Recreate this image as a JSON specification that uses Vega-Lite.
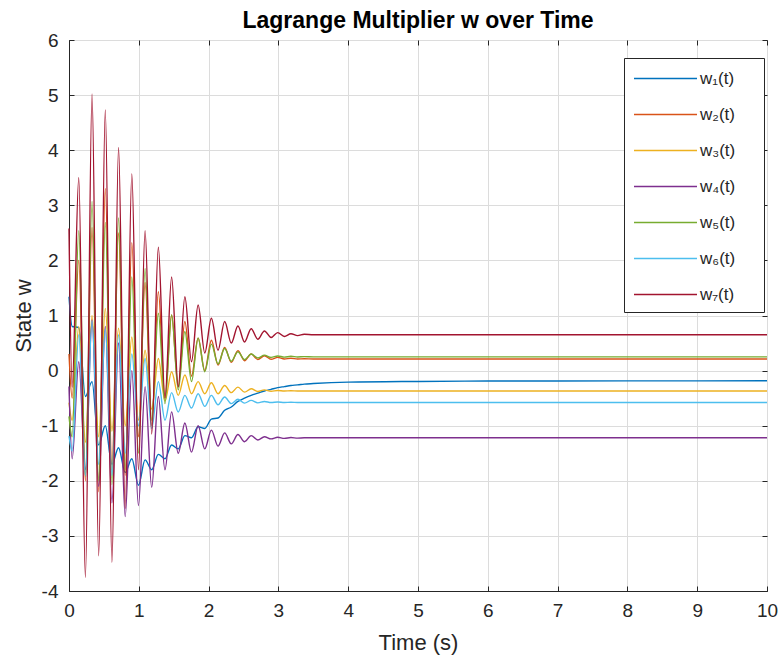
{
  "$schema": "https://vega.github.io/schema/vega-lite/v6.json",
  "autosize": {"type": "none"},
  "width": 698,
  "height": 551,
  "padding": {"left": 69, "top": 40, "right": 16, "bottom": 75},
  "background": "white",
  "title": {"text": "Lagrange Multiplier w over Time", "font": "Liberation Sans", "fontSize": 23, "fontWeight": "bold", "color": "#000000", "offset": -2, "anchor": "middle"},
  "data": {"values": [
    {"t": 0, "w1": 1.34, "w2": 0.3, "w3": -0.58, "w4": -0.29, "w5": -0.83, "w6": -1.19, "w7": 2.58},
    {"t": 0.045, "w1": 0.8, "w2": -0.5, "w3": -0.9, "w4": -1.6, "w5": -1.2, "w6": -1.46, "w7": -0.3},
    {"t": 0.14, "w1": 0.78, "w2": 2.0, "w3": 0.8, "w4": 0.16, "w5": 2.54, "w6": 0.65, "w7": 3.5},
    {"t": 0.235, "w1": -0.47, "w2": -2.0, "w3": -1.3, "w4": -1.8, "w5": -1.92, "w6": -1.9, "w7": -3.75},
    {"t": 0.33, "w1": -0.2, "w2": 2.6, "w3": 1.0, "w4": 0.92, "w5": 3.07, "w6": 0.9, "w7": 5.02},
    {"t": 0.425, "w1": -1.35, "w2": -2.2, "w3": -1.2, "w4": -2.1, "w5": -2.0, "w6": -1.7, "w7": -3.36},
    {"t": 0.52, "w1": -1.0, "w2": 3.3, "w3": 1.13, "w4": 0.8, "w5": 2.69, "w6": 0.75, "w7": 4.73},
    {"t": 0.615, "w1": -1.7, "w2": -1.8, "w3": -1.1, "w4": -2.4, "w5": -2.07, "w6": -1.9, "w7": -3.48},
    {"t": 0.71, "w1": -1.4, "w2": 2.5, "w3": 0.77, "w4": 0.5, "w5": 2.77, "w6": 0.65, "w7": 4.05},
    {"t": 0.805, "w1": -1.85, "w2": -1.9, "w3": -1.0, "w4": -2.65, "w5": -1.8, "w6": -1.5, "w7": -2.5},
    {"t": 0.9, "w1": -1.6, "w2": 2.32, "w3": 0.61, "w4": 0.0, "w5": 1.7, "w6": 0.3, "w7": 3.57},
    {"t": 0.995, "w1": -2.08, "w2": -1.2, "w3": -0.9, "w4": -2.45, "w5": -1.5, "w6": -1.0, "w7": -1.8},
    {"t": 1.09, "w1": -1.62, "w2": 1.6, "w3": 0.37, "w4": -0.29, "w5": 1.85, "w6": 0.22, "w7": 2.54},
    {"t": 1.185, "w1": -1.8, "w2": -1.0, "w3": -0.7, "w4": -2.12, "w5": -0.9, "w6": -1.05, "w7": -1.15},
    {"t": 1.28, "w1": -1.52, "w2": 1.43, "w3": 0.22, "w4": -0.47, "w5": 1.04, "w6": -0.2, "w7": 2.24},
    {"t": 1.375, "w1": -1.6, "w2": -0.5, "w3": -0.55, "w4": -1.8, "w5": -0.6, "w6": -0.9, "w7": -0.5},
    {"t": 1.47, "w1": -1.35, "w2": 1.01, "w3": -0.02, "w4": -0.75, "w5": 1.01, "w6": -0.4, "w7": 1.7},
    {"t": 1.565, "w1": -1.42, "w2": -0.3, "w3": -0.45, "w4": -1.5, "w5": -0.35, "w6": -0.75, "w7": -0.29},
    {"t": 1.66, "w1": -1.18, "w2": 0.89, "w3": -0.08, "w4": -0.95, "w5": 0.71, "w6": -0.45, "w7": 1.34},
    {"t": 1.755, "w1": -1.22, "w2": -0.1, "w3": -0.42, "w4": -1.48, "w5": -0.2, "w6": -0.68, "w7": 0.16},
    {"t": 1.85, "w1": -1.02, "w2": 0.59, "w3": -0.2, "w4": -1.0, "w5": 0.59, "w6": -0.42, "w7": 1.19},
    {"t": 1.945, "w1": -1.05, "w2": 0.0, "w3": -0.42, "w4": -1.42, "w5": -0.02, "w6": -0.65, "w7": 0.32},
    {"t": 2.04, "w1": -0.88, "w2": 0.55, "w3": -0.22, "w4": -1.08, "w5": 0.48, "w6": -0.45, "w7": 0.95},
    {"t": 2.135, "w1": -0.86, "w2": 0.1, "w3": -0.42, "w4": -1.37, "w5": 0.12, "w6": -0.62, "w7": 0.37},
    {"t": 2.23, "w1": -0.72, "w2": 0.42, "w3": -0.27, "w4": -1.13, "w5": 0.4, "w6": -0.48, "w7": 0.89},
    {"t": 2.325, "w1": -0.66, "w2": 0.15, "w3": -0.4, "w4": -1.33, "w5": 0.17, "w6": -0.6, "w7": 0.5},
    {"t": 2.42, "w1": -0.56, "w2": 0.36, "w3": -0.3, "w4": -1.16, "w5": 0.34, "w6": -0.52, "w7": 0.81},
    {"t": 2.515, "w1": -0.5, "w2": 0.18, "w3": -0.39, "w4": -1.29, "w5": 0.2, "w6": -0.59, "w7": 0.52},
    {"t": 2.61, "w1": -0.45, "w2": 0.3, "w3": -0.33, "w4": -1.18, "w5": 0.3, "w6": -0.54, "w7": 0.76},
    {"t": 2.705, "w1": -0.41, "w2": 0.2, "w3": -0.38, "w4": -1.26, "w5": 0.23, "w6": -0.585, "w7": 0.57},
    {"t": 2.8, "w1": -0.37, "w2": 0.27, "w3": -0.35, "w4": -1.2, "w5": 0.28, "w6": -0.56, "w7": 0.72},
    {"t": 2.895, "w1": -0.34, "w2": 0.205, "w3": -0.375, "w4": -1.24, "w5": 0.24, "w6": -0.58, "w7": 0.6},
    {"t": 2.99, "w1": -0.31, "w2": 0.24, "w3": -0.36, "w4": -1.21, "w5": 0.265, "w6": -0.57, "w7": 0.69},
    {"t": 3.085, "w1": -0.29, "w2": 0.21, "w3": -0.37, "w4": -1.23, "w5": 0.245, "w6": -0.58, "w7": 0.62},
    {"t": 3.18, "w1": -0.27, "w2": 0.225, "w3": -0.365, "w4": -1.215, "w5": 0.26, "w6": -0.575, "w7": 0.67},
    {"t": 3.275, "w1": -0.26, "w2": 0.21, "w3": -0.37, "w4": -1.225, "w5": 0.248, "w6": -0.58, "w7": 0.635},
    {"t": 3.37, "w1": -0.245, "w2": 0.215, "w3": -0.37, "w4": -1.22, "w5": 0.253, "w6": -0.58, "w7": 0.66},
    {"t": 3.5, "w1": -0.235, "w2": 0.21, "w3": -0.37, "w4": -1.22, "w5": 0.25, "w6": -0.58, "w7": 0.65},
    {"t": 4, "w1": -0.21, "w2": 0.21, "w3": -0.37, "w4": -1.22, "w5": 0.25, "w6": -0.58, "w7": 0.65},
    {"t": 5, "w1": -0.197, "w2": 0.21, "w3": -0.37, "w4": -1.22, "w5": 0.25, "w6": -0.58, "w7": 0.65},
    {"t": 6, "w1": -0.19, "w2": 0.21, "w3": -0.37, "w4": -1.22, "w5": 0.25, "w6": -0.58, "w7": 0.65},
    {"t": 8, "w1": -0.187, "w2": 0.21, "w3": -0.37, "w4": -1.22, "w5": 0.25, "w6": -0.58, "w7": 0.65},
    {"t": 10, "w1": -0.185, "w2": 0.21, "w3": -0.37, "w4": -1.22, "w5": 0.25, "w6": -0.58, "w7": 0.65}
  ]},
  "transform": [{"fold": ["w1", "w2", "w3", "w4", "w5", "w6", "w7"], "as": ["series", "value"]}],
  "layer": [
    {
      "mark": {"type": "line", "interpolate": "monotone", "strokeWidth": 1.4},
      "encoding": {
        "x": {"field": "t", "type": "quantitative", "scale": {"domain": [0, 10], "nice": false},
          "axis": {"title": "Time (s)", "values": [0, 1, 2, 3, 4, 5, 6, 7, 8, 9, 10], "labelPadding": 15, "titlePadding": 12, "labelFlush": false}},
        "y": {"field": "value", "type": "quantitative", "scale": {"domain": [-4, 6], "nice": false},
          "axis": {"title": "State w", "values": [-4, -3, -2, -1, 0, 1, 2, 3, 4, 5, 6], "labelPadding": 16, "titlePadding": 6, "labelFlush": false,
            "labelExpr": "replace(datum.label, '−', '-')"}},
        "color": {"field": "series", "type": "nominal",
          "scale": {"domain": ["w1", "w2", "w3", "w4", "w5", "w6", "w7"], "range": ["#0072BD", "#D95319", "#EDB120", "#7E2F8E", "#77AC30", "#4DBEEE", "#A2142F"]},
          "legend": {"orient": "none", "legendX": 555, "legendY": 18, "title": null,
            "labelExpr": "datum.label == 'w1' ? 'w₁(t)' : datum.label == 'w2' ? 'w₂(t)' : datum.label == 'w3' ? 'w₃(t)' : datum.label == 'w4' ? 'w₄(t)' : datum.label == 'w5' ? 'w₅(t)' : datum.label == 'w6' ? 'w₆(t)' : 'w₇(t)'",
            "strokeColor": "#262626", "fillColor": "white", "padding": 9,
            "symbolType": "M-1,0H5M10.2,0", "symbolSize": 441, "symbolStrokeWidth": 1.4,
            "labelFont": "Liberation Sans", "labelFontSize": 17, "labelColor": "#262626", "labelOffset": 44, "rowPadding": 16}}
      }
    },
    {
      "mark": {"type": "point", "opacity": 0, "size": 1},
      "encoding": {
        "x": {"field": "t", "type": "quantitative", "scale": {"domain": [0, 10], "nice": false},
          "axis": {"orient": "top", "title": null, "labels": false, "grid": false, "domain": false, "values": [0, 1, 2, 3, 4, 5, 6, 7, 8, 9, 10]}},
        "y": {"field": "value", "type": "quantitative", "scale": {"domain": [-4, 6], "nice": false},
          "axis": {"orient": "right", "title": null, "labels": false, "grid": false, "domain": false, "values": [-4, -3, -2, -1, 0, 1, 2, 3, 4, 5, 6]}}
      }
    }
  ],
  "resolve": {"scale": {"x": "independent", "y": "independent"}, "axis": {"x": "independent", "y": "independent"}},
  "config": {
    "view": {"stroke": "#262626", "strokeWidth": 1},
    "axis": {"domainColor": "#262626", "tickColor": "#262626", "tickSize": -5,
      "labelColor": "#262626", "labelFont": "Liberation Sans", "labelFontSize": 19,
      "titleColor": "#262626", "titleFont": "Liberation Sans", "titleFontSize": 22, "titleFontWeight": "normal",
      "gridColor": "#dcdcdc", "gridWidth": 1}
  }
}
